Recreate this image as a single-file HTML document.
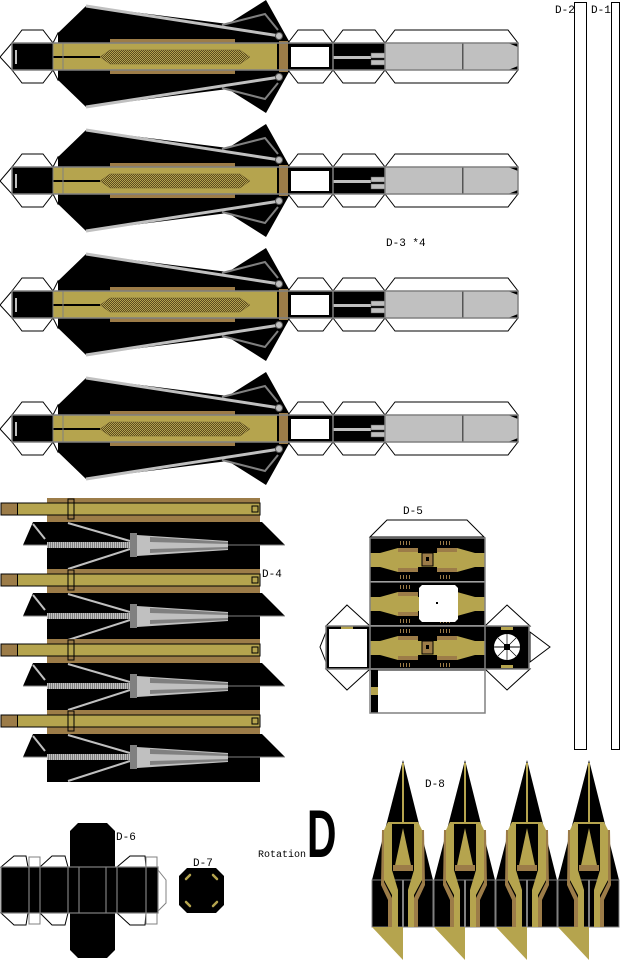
<!DOCTYPE html>
<html><head><meta charset="utf-8"><style>
html,body{margin:0;padding:0;background:#fff;width:620px;height:960px;overflow:hidden}
svg{display:block}
text{font-family:"Liberation Mono","DejaVu Sans Mono",monospace;font-size:11px;fill:#000}
</style></head><body>
<svg width="620" height="960" viewBox="0 0 620 960" xmlns="http://www.w3.org/2000/svg">
<defs>
<pattern id="chk" width="2" height="2" patternUnits="userSpaceOnUse">
<rect width="2" height="2" fill="#b5a44e"/><rect width="1" height="1" fill="#5a4a20"/><rect x="1" y="1" width="1" height="1" fill="#5a4a20"/>
</pattern>
<pattern id="hs" width="2" height="4" patternUnits="userSpaceOnUse">
<rect width="2" height="4" fill="#c0c0c0"/><rect width="1" height="4" fill="#808080"/>
</pattern>
<g id="d3">
<g fill="#fff" stroke="#000" stroke-width="1">
<polygon points="12,-14 22,-27 43,-27 53,-14"/>
<polygon points="53,-14 58,-24 62,-14"/>
<polygon points="288,-14 298,-27 323,-27 333,-14"/>
<polygon points="333,-14 343,-27 375,-27 385,-14"/>
<polygon points="385,-14 395,-27 508,-27 518,-14"/>
<polygon points="12,13 22,26 43,26 53,13"/>
<polygon points="53,13 58,23 62,13"/>
<polygon points="288,13 298,26 323,26 333,13"/>
<polygon points="333,13 343,26 375,26 385,13"/>
<polygon points="385,13 395,26 508,26 518,13"/>
<polygon points="12,-14 0,0 12,13"/>
</g>
<polygon points="58,-24 86,-51 228,-33 266,-57 290,-14 58,-14" fill="#000"/>
<polygon points="58,23 86,50 228,32 266,56 290,13 58,13" fill="#000"/>
<rect x="12" y="-14" width="41" height="27" fill="#000"/>
<rect x="15" y="-7" width="2" height="14" fill="#c0c0c0"/>
<rect x="53" y="-14" width="235" height="27" fill="#b5a44e"/>
<rect x="110" y="-18" width="125" height="35" fill="#9c7c48"/>
<rect x="110" y="-14" width="125" height="27" fill="#b5a44e"/>
<rect x="53" y="-1" width="47" height="2" fill="#000"/>
<polygon points="100,0 110,-7 240,-7 250,0 240,7 110,7" fill="url(#chk)" stroke="#6b5a2a" stroke-width="0.5"/>
<rect x="279" y="-16" width="9" height="31" fill="#9c7c48"/>
<rect x="277" y="-14" width="2" height="27" fill="#000"/>
<rect x="288" y="-14" width="45" height="27" fill="#000"/>
<rect x="291" y="-10" width="38" height="20" fill="#fff"/>
<rect x="333" y="-14" width="52" height="27" fill="#000"/>
<rect x="333" y="-1" width="38" height="3" fill="#c0c0c0"/>
<rect x="371" y="-4" width="36" height="5" fill="#c0c0c0" stroke="#555" stroke-width="0.5"/>
<rect x="371" y="3" width="36" height="5" fill="#c0c0c0" stroke="#555" stroke-width="0.5"/>
<polygon points="385,-14 518,-14 518,13 385,13" fill="#c0c0c0"/>
<rect x="462" y="-14" width="1.5" height="27" fill="#555"/>
<polygon points="508,-14 518,-14 518,-10" fill="#000"/>
<polygon points="508,13 518,13 518,9" fill="#000"/>
<rect x="12" y="-14" width="506" height="27" fill="none" stroke="#808080" stroke-width="1.5"/>
<line x1="53" y1="-14" x2="53" y2="13" stroke="#808080"/>
<line x1="63" y1="-14" x2="63" y2="13" stroke="#808080"/>
<line x1="333" y1="-14" x2="333" y2="13" stroke="#808080" stroke-width="1.5"/>
<line x1="385" y1="-14" x2="385" y2="13" stroke="#808080" stroke-width="1.5"/>
<polyline points="222,-32 265,-43 278,-27" fill="none" stroke="#808080" stroke-width="2"/>
<polyline points="222,31 265,42 278,26" fill="none" stroke="#808080" stroke-width="2"/>
<line x1="86" y1="-51" x2="280" y2="-21" stroke="#c0c0c0" stroke-width="3"/>
<line x1="86" y1="50" x2="280" y2="20" stroke="#c0c0c0" stroke-width="3"/>
<circle cx="279" cy="-21" r="3.5" fill="#c0c0c0" stroke="#555"/>
<circle cx="279" cy="20" r="3.5" fill="#c0c0c0" stroke="#555"/>
</g>
<g id="d4">
<rect x="47" y="-11" width="213" height="24" fill="#9c7c48"/>
<polygon points="33,13 262,13 285,36 23,36" fill="#000"/>
<rect x="47" y="13" width="213" height="48" fill="#000"/>
<line x1="23" y1="36" x2="285" y2="36" stroke="#808080"/>
<rect x="1" y="-6" width="259" height="12" fill="#b5a44e" stroke="#000"/>
<rect x="1.5" y="-5.5" width="16" height="11" fill="#9c7c48"/>
<line x1="17.5" y1="-6" x2="17.5" y2="6" stroke="#000"/>
<rect x="68" y="-10" width="6" height="20" fill="none" stroke="#000"/>
<rect x="252" y="-3" width="6" height="6" fill="#b5a44e" stroke="#000"/>
<line x1="33" y1="15" x2="45" y2="30" stroke="#c0c0c0" stroke-width="2"/>
<line x1="68" y1="14" x2="130" y2="32" stroke="#c0c0c0" stroke-width="2"/>
<line x1="68" y1="60" x2="130" y2="40" stroke="#c0c0c0" stroke-width="2"/>
<rect x="47" y="33" width="83" height="6" fill="url(#hs)"/>
<rect x="130" y="24" width="7" height="24" fill="#808080"/>
<polygon points="137,26 228,32 228,41 137,47" fill="#c0c0c0"/>
<polygon points="150,28 228,33 228,35 150,33" fill="#808080"/>
<polygon points="150,44 228,40 228,38 150,40" fill="#808080"/>
</g>
<g id="d5row">
<rect x="0" y="0" width="115" height="43" fill="#000"/>
<rect x="0" y="15" width="115" height="14" fill="#b5a44e"/>
<polygon points="10,15 28,10 48,10 48,34 28,34 10,29" fill="#b5a44e"/>
<polygon points="105,15 87,10 67,10 67,34 87,34 105,29" fill="#b5a44e"/>
<rect x="28" y="10" width="20" height="4" fill="#9c7c48"/>
<rect x="28" y="30" width="20" height="4" fill="#9c7c48"/>
<rect x="67" y="10" width="20" height="4" fill="#9c7c48"/>
<rect x="67" y="30" width="20" height="4" fill="#9c7c48"/>
<g fill="#9c7c48"><rect x="30" y="3" width="1" height="4"/><rect x="33" y="3" width="1" height="4"/><rect x="36" y="3" width="1" height="4"/><rect x="39" y="3" width="1" height="4"/>
<rect x="30" y="37" width="1" height="4"/><rect x="33" y="37" width="1" height="4"/><rect x="36" y="37" width="1" height="4"/><rect x="39" y="37" width="1" height="4"/>
<rect x="70" y="3" width="1" height="4"/><rect x="73" y="3" width="1" height="4"/><rect x="76" y="3" width="1" height="4"/><rect x="79" y="3" width="1" height="4"/>
<rect x="70" y="37" width="1" height="4"/><rect x="73" y="37" width="1" height="4"/><rect x="76" y="37" width="1" height="4"/><rect x="79" y="37" width="1" height="4"/></g>
<rect x="52" y="15" width="11" height="13" fill="#9c7c48" stroke="#000"/>
<rect x="56" y="19" width="3" height="4" fill="#000"/>
</g>
<g id="d8">
<polygon points="31,0 61,120 61,167 0,167 0,120" fill="#000"/>
<polygon points="0,120 0,167 61,167 61,120" fill="#000" stroke="#808080" stroke-width="1"/>
<polygon points="0,167 31,167 31,200" fill="#b5a44e"/>
<rect x="30" y="3" width="2" height="60" fill="#b5a44e"/>
<polygon points="31,68 40,110 22,110" fill="#b5a44e"/>
<rect x="21" y="105" width="20" height="6" fill="#9c7c48"/>
<polygon points="16,62 20,62 20,110 26,130 26,167 20,167 20,135 12,120 12,70" fill="#b5a44e"/>
<polygon points="46,62 42,62 42,110 36,130 36,167 42,167 42,135 50,120 50,70" fill="#b5a44e"/>
<polygon points="10,70 12,70 12,122 20,138 20,167 16,167 16,140 9,125" fill="#9c7c48"/>
<polygon points="52,70 50,70 50,122 42,138 42,167 46,167 46,140 53,125" fill="#9c7c48"/>
<rect x="18" y="62" width="26" height="2" fill="#b5a44e"/>
<rect x="30" y="120" width="2" height="47" fill="#808080"/>
</g>
</defs>

<use href="#d3" transform="translate(0,57)"/>
<use href="#d3" transform="translate(0,181)"/>
<use href="#d3" transform="translate(0,305)"/>
<use href="#d3" transform="translate(0,429)"/>
<text x="386" y="246">D-3 *4</text>

<rect x="574.5" y="2.5" width="12" height="747" fill="#fff" stroke="#000"/>
<rect x="611.5" y="2.5" width="8" height="747" fill="#fff" stroke="#000"/>
<text x="555" y="13">D-2</text>
<text x="591" y="13">D-1</text>

<use href="#d4" transform="translate(0,509)"/>
<use href="#d4" transform="translate(0,580)"/>
<use href="#d4" transform="translate(0,650)"/>
<use href="#d4" transform="translate(0,721)"/>
<text x="262" y="577">D-4</text>

<text x="403" y="514">D-5</text>
<polygon points="370,537 387,520 467,520 484,537" fill="#fff" stroke="#000"/>
<polygon points="347,605 370,626 326,626" fill="#fff" stroke="#000"/>
<polygon points="347,690 370,669 326,669" fill="#fff" stroke="#000"/>
<polygon points="507,605 530,626 485,626" fill="#fff" stroke="#000"/>
<polygon points="507,690 530,669 485,669" fill="#fff" stroke="#000"/>
<polygon points="326,632 320,647 326,662" fill="#fff" stroke="#000"/>
<polygon points="530,632 550,647 530,662" fill="#fff" stroke="#000"/>
<use href="#d5row" transform="translate(370,538)"/>
<use href="#d5row" transform="translate(370,582)"/>
<use href="#d5row" transform="translate(370,626)"/>
<polygon points="422,585 455,585 458,588 458,619 455,622 422,622 419,619 419,588" fill="#fff"/>
<rect x="436" y="602" width="2" height="2" fill="#000"/>
<rect x="370" y="670" width="115" height="43" fill="#fff" stroke="#000"/>
<rect x="371" y="670" width="7" height="43" fill="#000"/>
<rect x="371" y="687" width="7" height="8" fill="#b5a44e"/>
<rect x="326" y="626" width="44" height="43" fill="#000"/>
<rect x="329" y="629" width="38" height="38" fill="#fff"/>
<rect x="341" y="626" width="12" height="3" fill="#b5a44e"/>
<rect x="485" y="626" width="44" height="43" fill="#000"/>
<circle cx="507" cy="647" r="13" fill="#fff"/>
<g stroke="#000" stroke-width="0.7"><line x1="494" y1="647" x2="520" y2="647"/><line x1="507" y1="634" x2="507" y2="660"/><line x1="498" y1="638" x2="516" y2="656"/><line x1="516" y1="638" x2="498" y2="656"/></g>
<line x1="494" y1="647" x2="520" y2="647" stroke="#808080" stroke-width="2"/>
<rect x="504" y="644" width="6" height="6" fill="#000"/>
<rect x="501" y="627" width="12" height="3" fill="#b5a44e"/>
<rect x="501" y="665" width="12" height="3" fill="#b5a44e"/>
<g fill="none" stroke="#808080" stroke-width="1.5">
<rect x="370" y="538" width="115" height="131"/>
<line x1="370" y1="582" x2="485" y2="582"/><line x1="370" y1="626" x2="485" y2="626"/>
<rect x="326" y="626" width="203" height="43"/>
<rect x="370" y="669" width="115" height="44"/>
</g>

<g fill="#fff" stroke="#000">
<polygon points="1,867 14,856 26,856 28,867"/>
<polygon points="40,867 52,856 65,856 68,867"/>
<polygon points="117,867 130,856 145,856 146,867"/>
<polygon points="1,913 14,925 26,925 28,913"/>
<polygon points="40,913 52,925 65,925 68,913"/>
<polygon points="117,913 130,925 145,925 146,913"/>
<polygon points="158,870 166,880 166,903 158,911" stroke="#808080"/>
</g>
<g fill="#fff" stroke="#808080"><rect x="29" y="857" width="11" height="10"/><rect x="146" y="857" width="11" height="10"/><rect x="29" y="913" width="11" height="11"/><rect x="146" y="913" width="11" height="11"/></g>
<polygon points="78,823 107,823 115,831 115,867 70,867 70,831" fill="#000"/>
<polygon points="70,913 115,913 115,950 107,958 78,958 70,950" fill="#000"/>
<rect x="1" y="867" width="157" height="46" fill="#000"/>
<g fill="none" stroke="#808080" stroke-width="1.2">
<rect x="1" y="867" width="157" height="46"/>
<line x1="29" y1="867" x2="29" y2="913"/><line x1="40" y1="867" x2="40" y2="913"/>
<line x1="68" y1="867" x2="68" y2="913"/><line x1="79" y1="867" x2="79" y2="913"/>
<line x1="106" y1="867" x2="106" y2="913"/><line x1="117" y1="867" x2="117" y2="913"/>
<line x1="146" y1="867" x2="146" y2="913"/>
</g>
<text x="116" y="840">D-6</text>

<text x="193" y="866">D-7</text>
<polygon points="187,868 216,868 224,876 224,905 216,913 187,913 179,905 179,876" fill="#000"/>
<g stroke="#b5a44e" stroke-width="2.5" stroke-linecap="round"><line x1="186" y1="879" x2="190" y2="875"/><line x1="213" y1="875" x2="217" y2="879"/><line x1="186" y1="902" x2="190" y2="906"/><line x1="213" y1="906" x2="217" y2="902"/></g>

<text x="258" y="857" style="font-size:10px">Rotation</text>
<text transform="translate(307,857) scale(0.6,1)" x="0" y="0" style="font-family:'Liberation Sans',sans-serif;font-size:68px;font-weight:bold">D</text>

<use href="#d8" transform="translate(372,760)"/>
<use href="#d8" transform="translate(434,760)"/>
<use href="#d8" transform="translate(496,760)"/>
<use href="#d8" transform="translate(558,760)"/>
<text x="425" y="787">D-8</text>
</svg>
</body></html>
